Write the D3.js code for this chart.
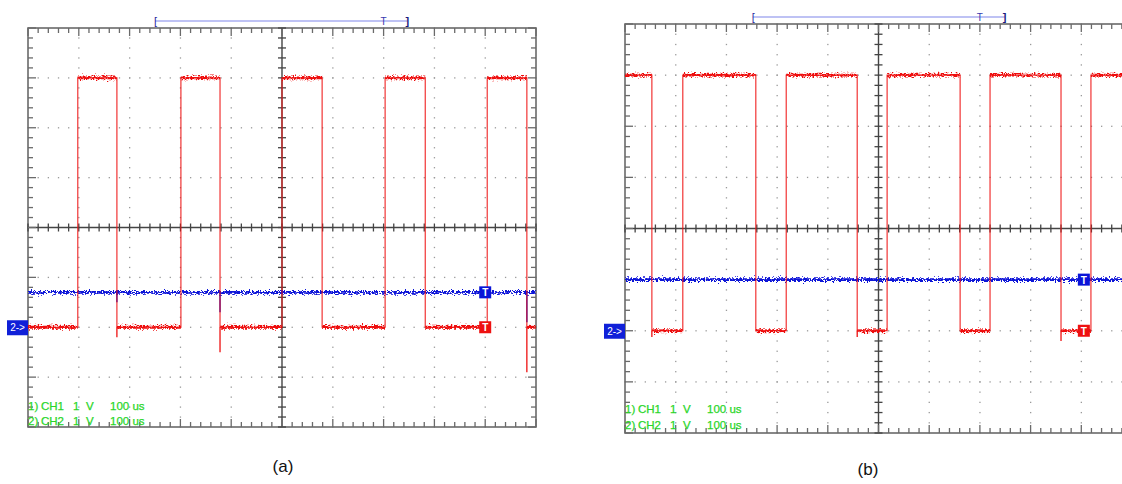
<!DOCTYPE html>
<html><head><meta charset="utf-8">
<script src="https://cdn.jsdelivr.net/npm/d3@7"></script>
<style>
html,body{margin:0;padding:0;background:#fff;}
svg{display:block;}
text{font-family:"Liberation Sans",Arial,sans-serif;}
</style></head>
<body>
<svg id="c" width="1122" height="484"></svg>
<script>
// ---- data (time in microseconds, level in divisions) ----
const panelNames = ["(a)", "(b)"];
const ch1Label = ["1)", "CH1", "1", "V", "100 us"];
const ch2Label = ["2)", "CH2", "1", "V", "100 us"];
const timeDomain = [0, 1000];          // 10 div x 100 us
const voltDomain = [-4, 4];            // 8 div x 1 V
const redHigh = 3, redLow = -2;
// panel (a): red starts low
const aRedStart = "low";
const aRise = [98, 301, 500, 703, 904];
const aFall = [175, 378, 579, 782, 982];
const aBlue = -1.3;
const aRedGlitch = [{t:175, v:-2.2}, {t:378, v:-2.5}, {t:982, v:-2.9}];
const aBlueGlitch = [{t:175, v:-1.5}, {t:378, v:-1.7}, {t:982, v:-1.9}];
const aTrigT = 700, aBarStart = 250, aBarEnd = 747;
// panel (b): red starts high
const bRedStart = "high";
const bFall = [53, 258, 458, 661, 860];
const bRise = [114, 318, 517, 720, 919];
const bBlue = -1.0;
const bRedGlitch = [{t:53, v:-2.12}, {t:458, v:-2.12}, {t:860, v:-2.2}];
const bBlueGlitch = [];
const bTrigT = 700, bBarStart = 252, bBarEnd = 749;

const labelOffsets = [0, 13, 45, 58, 82];

const panels = [
  {name: panelNames[0], x0: 28, x1: 536, y0: 28, y1: 427, start: aRedStart, rise: aRise, fall: aFall,
   blue: aBlue, rg: aRedGlitch, bg: aBlueGlitch, trig: aTrigT, bar: [aBarStart, aBarEnd], barY: 21,
   markerT: 900, labelX: 283, labelY: 472, txtY: [410, 425]},
  {name: panelNames[1], x0: 625, x1: 1132, y0: 24, y1: 433, start: bRedStart, rise: bRise, fall: bFall,
   blue: bBlue, rg: bRedGlitch, bg: bBlueGlitch, trig: bTrigT, bar: [bBarStart, bBarEnd], barY: 17,
   markerT: 905, labelX: 868, labelY: 475, txtY: [413, 429]}
];

const svg = d3.select("#c");
const defs = svg.append("defs");
// noise texture for traces (vertical displacement only)
const f = defs.append("filter").attr("id","noise").attr("filterUnits","userSpaceOnUse")
  .attr("x",0).attr("y",0).attr("width",1122).attr("height",484);
f.append("feTurbulence").attr("type","fractalNoise").attr("baseFrequency","0.55 0.9").attr("numOctaves",2).attr("seed",5).attr("result","t");
f.append("feColorMatrix").attr("in","t").attr("type","matrix")
  .attr("values","0 0 0 0 0.5  0 1 0 0 0  0 0 1 0 0  0 0 0 0 1").attr("result","m");
f.append("feDisplacementMap").attr("in","SourceGraphic").attr("in2","m").attr("scale",8)
  .attr("xChannelSelector","R").attr("yChannelSelector","G");

const RED = "#ee1111", BLUE = "#0a14d8", GRID = "#9a9a9a", FRAME = "#6a6a6a", GREEN = "#2ad62a";

panels.forEach((p, pi) => {
  const x = d3.scaleLinear().domain(timeDomain).range([p.x0, p.x1]);
  const y = d3.scaleLinear().domain(voltDomain).range([p.y1, p.y0]);
  const g = svg.append("g");
  const clipId = "clip" + pi;
  defs.append("clipPath").attr("id", clipId).append("rect")
    .attr("x", p.x0).attr("y", p.y0 - 4).attr("width", p.x1 - p.x0).attr("height", p.y1 - p.y0 + 8);

  const majT = d3.range(0, 1001, 100), minT = d3.range(0, 1001, 20);
  const majV = d3.range(-4, 4.01, 1), minV = d3.range(-4, 4.01, 0.2);

  // dotted grid
  const dots = g.append("g").attr("fill", GRID);
  majT.slice(1, -1).forEach(t => {
    if (t === 500) return;
    minV.forEach(v => dots.append("rect").attr("x", x(t) - 0.6).attr("y", y(v) - 0.6).attr("width", 1.3).attr("height", 1.3));
  });
  majV.slice(1, -1).forEach(v => {
    if (Math.abs(v) < 1e-9) return;
    minT.forEach(t => dots.append("rect").attr("x", x(t) - 0.6).attr("y", y(v) - 0.6).attr("width", 1.3).attr("height", 1.3));
  });

  // frame
  const fr = g.append("g").attr("stroke", FRAME).attr("fill", "none");
  fr.append("rect").attr("x", p.x0).attr("y", p.y0).attr("width", p.x1 - p.x0).attr("height", p.y1 - p.y0).attr("stroke-width", 1.6);
  fr.append("line").attr("x1", x(500)).attr("x2", x(500)).attr("y1", p.y0).attr("y2", p.y1).attr("stroke", "#444").attr("stroke-width", 1.4);
  fr.append("line").attr("x1", p.x0).attr("x2", p.x1).attr("y1", y(0)).attr("y2", y(0)).attr("stroke", "#444").attr("stroke-width", 1.4);
  minT.forEach((t, i) => {
    const L = (i % 5 === 0) ? 8 : 5;
    fr.append("line").attr("x1", x(t)).attr("x2", x(t)).attr("y1", p.y0).attr("y2", p.y0 + L).attr("stroke-width", 1.3);
    fr.append("line").attr("x1", x(t)).attr("x2", x(t)).attr("y1", p.y1).attr("y2", p.y1 - L).attr("stroke-width", 1.3);
    fr.append("line").attr("x1", x(t)).attr("x2", x(t)).attr("y1", y(0) - 4).attr("y2", y(0) + 4).attr("stroke", "#444").attr("stroke-width", 1.3);
  });
  minV.forEach((v, i) => {
    const L = (i % 5 === 0) ? 8 : 5;
    fr.append("line").attr("y1", y(v)).attr("y2", y(v)).attr("x1", p.x0).attr("x2", p.x0 + L).attr("stroke-width", 1.3);
    fr.append("line").attr("y1", y(v)).attr("y2", y(v)).attr("x1", p.x1).attr("x2", p.x1 - L).attr("stroke-width", 1.3);
    fr.append("line").attr("y1", y(v)).attr("y2", y(v)).attr("x1", x(500) - 4).attr("x2", x(500) + 4).attr("stroke", "#444").attr("stroke-width", 1.3);
  });

  // traces
  const tg = g.append("g").attr("clip-path", `url(#${clipId})`);
  const edges = p.rise.map(t => ({t, to: redHigh})).concat(p.fall.map(t => ({t, to: redLow}))).sort((a, b) => a.t - b.t);
  let lvl = p.start === "high" ? redHigh : redLow;
  const pts = [[timeDomain[0], lvl]];
  edges.forEach(e => { pts.push([e.t, lvl]); pts.push([e.t, e.to]); lvl = e.to; });
  pts.push([timeDomain[1], lvl]);
  const line = d3.line().x(d => x(d[0])).y(d => y(d[1]));
  // blue
  tg.append("path").attr("d", line([[timeDomain[0], p.blue], [timeDomain[1], p.blue]]))
    .attr("fill", "none").attr("stroke", BLUE).attr("stroke-width", 2.6).attr("filter", "url(#noise)");
  p.bg.forEach(d => tg.append("line").attr("x1", x(d.t)).attr("x2", x(d.t)).attr("y1", y(p.blue)).attr("y2", y(d.v))
    .attr("stroke", BLUE).attr("stroke-width", 1.4));
  // red flats (noisy) and edges
  const flats = [];
  for (let i = 0; i < pts.length - 1; i++) if (pts[i][1] === pts[i + 1][1]) flats.push([pts[i], pts[i + 1]]);
  flats.forEach(s => tg.append("path").attr("d", line(s)).attr("fill", "none").attr("stroke", RED)
    .attr("stroke-width", 2.8).attr("filter", "url(#noise)"));
  tg.append("path").attr("d", line(pts)).attr("fill", "none").attr("stroke", RED).attr("stroke-width", 1.2).attr("opacity", 0.85);
  p.rg.forEach(d => tg.append("line").attr("x1", x(d.t)).attr("x2", x(d.t)).attr("y1", y(redLow)).attr("y2", y(d.v))
    .attr("stroke", RED).attr("stroke-width", 1.3));

  // channel markers near right
  [[p.blue, BLUE], [redLow, RED]].forEach(([v, c]) => {
    const mx = x(p.markerT);
    g.append("rect").attr("x", mx - 6).attr("y", y(v) - 6).attr("width", 12).attr("height", 12).attr("fill", c);
    g.append("text").attr("x", mx).attr("y", y(v) + 4).attr("text-anchor", "middle").attr("fill", "#fff")
      .attr("font-size", 10).attr("font-weight", "bold").text("T");
  });

  // "2->" ground marker at left
  g.append("rect").attr("x", p.x0 - 21).attr("y", y(redLow) - 7).attr("width", 21).attr("height", 15).attr("fill", "#1020d8");
  g.append("text").attr("x", p.x0 - 10.5).attr("y", y(redLow) + 4).attr("text-anchor", "middle").attr("fill", "#fff")
    .attr("font-size", 10).text("2->");

  // record bar on top
  const bar = g.append("g");
  bar.append("line").attr("x1", x(p.bar[0])).attr("x2", x(p.bar[1])).attr("y1", p.barY).attr("y2", p.barY)
    .attr("stroke", "#a9aef0").attr("stroke-width", 1.6);
  bar.append("text").attr("x", x(p.bar[0]) - 1).attr("y", p.barY + 4).attr("fill", "#2a2aa0").attr("font-size", 11).text("[");
  bar.append("text").attr("x", x(p.bar[1]) - 2).attr("y", p.barY + 4).attr("fill", "#1a1a80").attr("font-size", 11).attr("font-weight", "bold").text("]");
  bar.append("text").attr("x", x(p.trig)).attr("y", p.barY + 4).attr("text-anchor", "middle").attr("fill", "#3a3ab0").attr("font-size", 10).text("T");

  // channel text
  [ch1Label, ch2Label].forEach((parts, i) => {
    const t = g.append("text").attr("y", p.txtY[i]).attr("fill", GREEN).attr("font-size", 11.5)
      .attr("stroke", GREEN).attr("stroke-width", 0.25);
    parts.forEach((s, k) => t.append("tspan").attr("x", p.x0 + labelOffsets[k]).text(s));
  });

  // panel label
  g.append("text").attr("x", p.labelX).attr("y", p.labelY).attr("text-anchor", "middle").attr("fill", "#111")
    .attr("font-size", 17).text(p.name);
});
</script>
</body></html>
